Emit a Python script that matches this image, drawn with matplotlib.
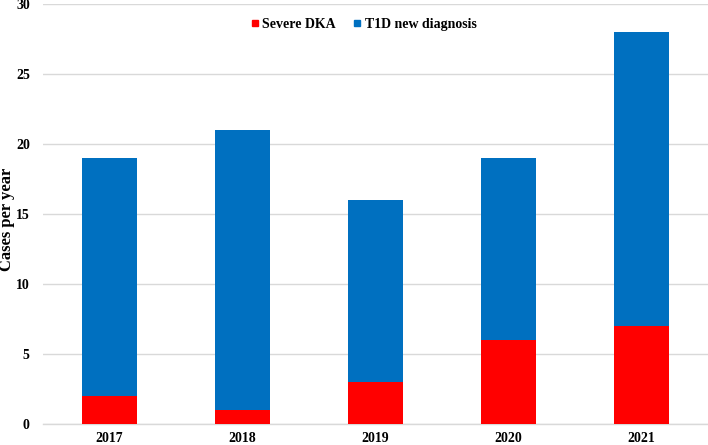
import matplotlib
matplotlib.use("Agg")
import matplotlib.pyplot as plt
from matplotlib.lines import Line2D

years = ["2017", "2018", "2019", "2020", "2021"]
severe_dka = [2, 1, 3, 6, 7]
t1d_total = [19, 21, 16, 19, 28]
yticks = [0, 5, 10, 15, 20, 25, 30]

red = "#FF0000"
blue = "#0070C0"
grid = "#D9D9D9"

plt.rcParams['font.family'] = ['Liberation Serif', 'DejaVu Serif']
plt.rcParams['font.weight'] = 'bold'

fig = plt.figure(figsize=(7.08, 4.45), dpi=100)
ax = fig.add_axes([0.0607, 0.0472, 0.9393, 0.9427])

x = list(range(len(years)))
blue_part = [t - s for t, s in zip(t1d_total, severe_dka)]
ax.bar(x, severe_dka, width=0.41, color=red, zorder=3)
ax.bar(x, blue_part, bottom=severe_dka, width=0.41, color=blue, zorder=3)

ax.set_xlim(-0.5, len(years) - 0.5)
ax.set_ylim(0, 30)
ax.set_yticks(yticks)
ax.set_yticklabels([str(v) for v in yticks], fontsize=10, fontweight='bold')
ax.set_xticks(x)
ax.set_xticklabels(years, fontsize=10, fontweight='bold')
ax.tick_params(axis='both', length=0)
ax.tick_params(axis='x', pad=6)
ax.tick_params(axis='y', pad=9.5)
ax.yaxis.grid(True, color=grid, linewidth=1.0, zorder=0)
ax.set_axisbelow(True)
for s in ['top', 'right', 'left']:
    ax.spines[s].set_visible(False)
ax.spines['bottom'].set_color(grid)
ax.spines['bottom'].set_linewidth(1.0)

fig.text(7.5 / 708, 1 - 219 / 445, "Cases per year", rotation=90,
         ha='center', va='center', fontsize=12, fontweight='bold')

handles = [Line2D([], [], marker='s', linestyle='none', markersize=5, color=red),
           Line2D([], [], marker='s', linestyle='none', markersize=5, color=blue)]
ax.legend(handles, ["Severe DKA", "T1D new diagnosis"], loc='center',
          bbox_to_anchor=(0.482, 0.953), ncol=2, frameon=False,
          prop={'size': 10, 'weight': 'bold'}, handlelength=0.6,
          handletextpad=0.25, columnspacing=1.2)

fig.savefig("out.png", dpi=100)
